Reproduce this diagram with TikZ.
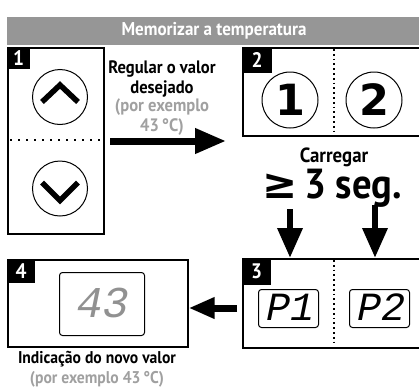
\documentclass[tikz,border=0pt]{standalone}
\usepackage{fontspec}
\setmainfont{PT Sans}[FakeStretch=0.92]
\newfontfamily\segfont{Liberation Mono}[FakeSlant=0.2]
\newfontfamily\symfont{DejaVu Sans}
\usetikzlibrary{arrows.meta}
\definecolor{hdr}{RGB}{150,150,150}
\definecolor{txtgray}{RGB}{160,160,160}
\definecolor{seggray}{RGB}{145,145,145}
\begin{document}
\begin{tikzpicture}[x=1pt,y=-1pt,
  panel/.style={draw=black, line width=1.6pt, rectangle, inner sep=0pt, anchor=north west},
  tag/.style={fill=black, text=white, font=\bfseries\fontsize{21}{21}\selectfont, inner sep=0pt, anchor=north west},
  btn/.style={circle, draw, line width=1pt, minimum size=55pt, inner sep=0pt},
  chev/.style={line width=5.5pt, line join=miter},
  disp/.style={draw, rounded corners=3pt, line width=1pt, anchor=north west, inner sep=0pt},
  seg/.style={font=\segfont\fontsize{40}{40}\selectfont},
  bigarrow/.style={line width=7pt, -{Triangle[length=31pt,width=24pt]}},
  downarrow/.style={line width=6.5pt, -{Triangle[length=30pt,width=24pt]}},
  dotline/.style={line width=1.8pt, dash pattern=on 1.8pt off 3pt},
  dotline2/.style={line width=2pt, dash pattern=on 2pt off 6pt},
  lbl/.style={font=\bfseries\fontsize{18}{19.5}\selectfont, align=center},
  lbls/.style={font=\bfseries\fontsize{17}{19}\selectfont, align=center}
]
\useasboundingbox (0,0) rectangle (419,388);
\clip (0,0) rectangle (419,388);

% header
\node[fill=hdr, anchor=north west, minimum width=414pt, minimum height=28pt, inner sep=0pt] (hdr) at (7,17) {};
\node[text=white, font=\bfseries\fontsize{18.5}{18.5}\selectfont] (hdrtext) at (214,31) {Memorizar a temperatura};

% box 1
\node[panel, minimum width=96pt, minimum height=186pt] (b1) at (7,47) {};
\node[tag, minimum width=23pt, minimum height=22pt] (t1) at (7,47) {1};
\node[btn] (up) at (60,97) {};
\node[btn] (down) at (60,188.5) {};
\draw[chev] ([shift={(-18,5)}]up.center) -- ([shift={(0,-12)}]up.center) -- ([shift={(18,5)}]up.center);
\draw[chev] ([shift={(-18,-6)}]down.center) -- ([shift={(0,12)}]down.center) -- ([shift={(18,-6)}]down.center);
\coordinate (d1a) at (10,140);
\coordinate (d1b) at (101,140);
\draw[dotline2] (d1a) -- (d1b);

% text and arrow 1 -> 2
\node[lbl] (reg) at (162,79) {Regular o valor\\desejado};
\node[lbl, text=txtgray] (ex1) at (162,117) {(por exemplo\\43\,°C)};
\coordinate (a1s) at (110,141);
\coordinate (a1e) at (226,141);
\draw[bigarrow] (a1s) -- (a1e);

% box 2
\node[panel, minimum width=190pt, minimum height=88pt] (b2) at (242,47) {};
\node[tag, minimum width=30pt, minimum height=26pt] (t2) at (242,47) {2};
\coordinate (d2a) at (334,49);
\coordinate (d2b) at (334,134);
\draw[dotline] (d2a) -- (d2b);
\node[btn, minimum size=56pt, font=\symfont\bfseries\fontsize{43}{43}\selectfont] (k1) at (290,100) {1};
\node[btn, minimum size=56pt, font=\symfont\bfseries\fontsize{43}{43}\selectfont] (k2) at (374,100) {2};

% carregar
\node[font=\bfseries\fontsize{20.5}{20.5}\selectfont] (carr) at (334,157) {Carregar};
\node[font=\bfseries\fontsize{42}{42}\selectfont, inner sep=0pt] (seg) at (332,188) {{\symfont\bfseries ≥}\,3 seg.};

% box 3
\node[panel, minimum width=190pt, minimum height=89pt] (b3) at (242,258) {};
\node[tag, minimum width=29pt, minimum height=27pt] (t3) at (242,258) {3};
\coordinate (d3a) at (334,260);
\coordinate (d3b) at (334,345);
\draw[dotline] (d3a) -- (d3b);
\node[disp, minimum width=60pt, minimum height=38pt] (p1) at (258,289) {};
\node[disp, minimum width=60pt, minimum height=38pt] (p2) at (349,289) {};
\node[seg] (p1t) at ([yshift=1pt]p1.center) {P1};
\node[seg] (p2t) at ([yshift=1pt]p2.center) {P2};

% down arrows
\coordinate (da1) at (290,209);
\coordinate (da2) at (375,205);
\draw[downarrow] (da1) -- (da1 |- b3.north);
\draw[downarrow] (da2) -- (da2 |- b3.north);

% box 4
\node[panel, minimum width=180pt, minimum height=87pt] (b4) at (7,259) {};
\node[tag, minimum width=28pt, minimum height=24pt] (t4) at (7,259) {4};
\node[disp, minimum width=85pt, minimum height=63pt] (d43) at (59,272) {};
\node[seg, text=seggray, font=\segfont\fontsize{44}{44}\selectfont] (t43) at ([xshift=-1pt,yshift=1pt]d43.center) {43};

% arrow 3 -> 4
\coordinate (a2s) at (237,308);
\draw[bigarrow, -{Triangle[length=26pt,width=20pt]}] (a2s) -- (a2s -| b4.east);

% bottom text
\node[lbls] (ind) at (97,359) {Indicação do novo valor};
\node[lbls, text=txtgray] (ex2) at (97,379) {(por exemplo 43\,°C)};
\end{tikzpicture}
\end{document}
